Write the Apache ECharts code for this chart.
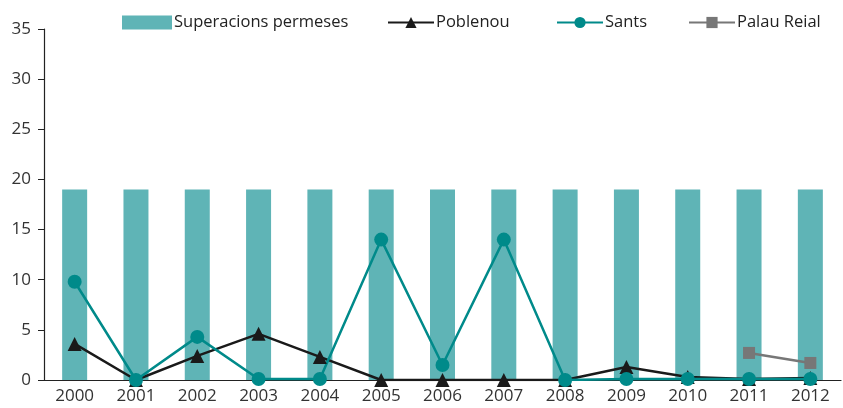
<!DOCTYPE html>
<html>
<head>
<meta charset="utf-8">
<script src="https://cdn.jsdelivr.net/npm/echarts@6/dist/echarts.min.js"></script>
<style>
  html, body { margin: 0; padding: 0; background: #fff; }
  #chart { width: 843px; height: 408px; }
</style>
</head>
<body>
<div id="chart"></div>
<script>
// dades llegides del gràfic
var years = ['2000', '2001', '2002', '2003', '2004', '2005', '2006', '2007', '2008', '2009', '2010', '2011', '2012'];
var permeses = [19, 19, 19, 19, 19, 19, 19, 19, 19, 19, 19, 19, 19];
var poblenou = [3.6, 0, 2.4, 4.6, 2.3, 0, 0, 0, 0, 1.3, 0.3, 0.1, 0.2];
var sants = [9.8, 0, 4.3, 0.1, 0.1, 14, 1.5, 14, 0, 0.1, 0.1, 0.1, 0.1];
var palauReial = [null, null, null, null, null, null, null, null, null, null, null, 2.7, 1.7];

var fontFam = '"Open Sans", "Noto Sans", sans-serif';
var myChart = echarts.init(document.getElementById('chart'));

function legendAt(name, left, w, icon) {
    var lg = {
        data: [name],
        left: left,
        top: 9,
        itemWidth: w,
        itemHeight: 14,
        itemGap: 4,
        textStyle: { fontFamily: fontFam, fontSize: 16.5, color: '#222', padding: [0, 0, 0, -3] }
    };
    if (icon) lg.icon = icon;
    return lg;
}

var option = {
    animation: false,
    legend: [
        legendAt('Superacions permeses', 117, 50, 'rect'),
        legendAt('Poblenou', 382, 46),
        legendAt('Sants', 551, 46),
        legendAt('Palau Reial', 683, 46)
    ],
    grid: { left: 44, right: 2, top: 29, bottom: 28 },
    xAxis: {
        type: 'category',
        data: years,
        axisLine: { lineStyle: { color: '#222', width: 1.2 } },
        axisTick: { length: 6, lineStyle: { color: '#222' } },
        axisLabel: { fontFamily: fontFam, fontSize: 17, color: '#333', margin: 8 }
    },
    yAxis: {
        type: 'value',
        min: 0,
        max: 35,
        interval: 5,
        axisLine: { show: true, lineStyle: { color: '#222', width: 1.2 } },
        axisTick: { show: true, length: 6, lineStyle: { color: '#222' } },
        splitLine: { show: false },
        axisLabel: { fontFamily: fontFam, fontSize: 17, color: '#333', margin: 13 }
    },
    series: [
        {
            name: 'Superacions permeses',
            type: 'bar',
            data: permeses,
            barWidth: 25,
            itemStyle: { color: '#5fb4b6' }
        },
        {
            name: 'Poblenou',
            type: 'line',
            data: poblenou,
            symbol: 'triangle',
            symbolSize: 14,
            lineStyle: { color: '#1a1a1a', width: 2.5 },
            itemStyle: { color: '#1a1a1a' }
        },
        {
            name: 'Sants',
            type: 'line',
            data: sants,
            symbol: 'circle',
            symbolSize: 14,
            lineStyle: { color: '#008a8a', width: 2.5 },
            itemStyle: { color: '#008a8a' }
        },
        {
            name: 'Palau Reial',
            type: 'line',
            data: palauReial,
            symbol: 'rect',
            symbolSize: 12,
            lineStyle: { color: '#777', width: 2.5 },
            itemStyle: { color: '#777' }
        }
    ]
};
myChart.setOption(option);
</script>
</body>
</html>
